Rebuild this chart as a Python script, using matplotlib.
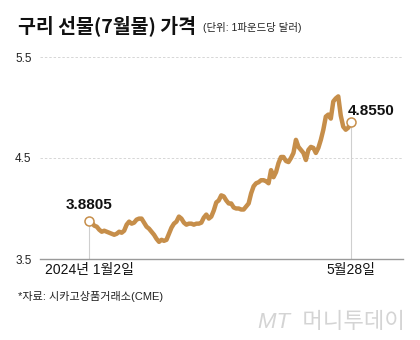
import matplotlib
matplotlib.use("Agg")
import matplotlib.pyplot as plt
import numpy as np
import pandas as pd

plt.rcParams['font.family'] = ['Liberation Sans', 'Noto Sans CJK KR', 'DejaVu Sans']

# July copper futures, USD per pound, daily close (2024-01-02 .. 2024-05-28)
dates = pd.bdate_range("2024-01-02", "2024-05-28")
prices = [
    3.8805, 3.86, 3.83, 3.82, 3.79, 3.77, 3.78, 3.77, 3.76, 3.75,
    3.74, 3.75, 3.77, 3.76, 3.78, 3.84, 3.87, 3.85, 3.86, 3.89,
    3.90, 3.90, 3.86, 3.82, 3.80, 3.77, 3.74, 3.70, 3.67, 3.69,
    3.68, 3.69, 3.75, 3.81, 3.85, 3.87, 3.92, 3.90, 3.86, 3.84,
    3.85, 3.85, 3.84, 3.85, 3.85, 3.86, 3.91, 3.94, 3.90, 3.92,
    3.98, 4.06, 4.08, 4.13, 4.12, 4.08, 4.05, 4.05, 4.01, 4.00,
    4.00, 3.99, 3.99, 4.02, 4.05, 4.15, 4.22, 4.25, 4.26, 4.28,
    4.28, 4.27, 4.25, 4.38, 4.31, 4.36, 4.45, 4.51, 4.51, 4.47,
    4.46, 4.50, 4.55, 4.68, 4.61, 4.58, 4.55, 4.48, 4.58, 4.61,
    4.60, 4.55, 4.60, 4.68, 4.78, 4.91, 4.93, 4.89, 5.06, 5.09,
    5.11, 4.92, 4.81, 4.78, 4.80, 4.855,
]
y_ticks = [3.5, 4.5, 5.5]
y_tick_labels = ["3.5", "4.5", "5.5"]
x_tick_labels = ["2024년 1월2일", "5월28일"]

line_color = "#C68E4A"

fig = plt.figure(figsize=(4.2, 3.4), dpi=100)
ax = fig.add_axes([40 / 420, 1 - 259 / 340, 363 / 420, 202 / 340])

x = np.arange(len(prices))
ax.set_xlim(-19.8, 126)
ax.set_ylim(3.5, 5.5)

# dashed horizontal guides
for yv in y_ticks[1:]:
    ax.axhline(yv, color="#d6d6d6", lw=0.7, ls=(0, (2.5, 2)), zorder=0)

# vertical guides from first and last points
ax.plot([x[0], x[0]], [3.5, prices[0]], color="#cfcfcf", lw=0.8, zorder=1)
ax.plot([x[-1], x[-1]], [3.5, prices[-1]], color="#cfcfcf", lw=0.8, zorder=1)

ax.plot(x, prices, color=line_color, lw=3.2, solid_joinstyle="round",
        solid_capstyle="round", zorder=3)
ax.plot([x[0], x[-1]], [prices[0], prices[-1]], ls="none", marker="o", ms=6.5,
        mfc="white", mec=line_color, mew=1.1, zorder=4)

ax.annotate(f"{prices[0]:.4f}", (x[0], prices[0]), xytext=(0, 6),
            textcoords="offset points", ha="center", va="bottom",
            fontsize=11, fontweight="bold", color="#111111")
ax.annotate(f"{prices[-1]:.4f}", (x[-1], prices[-1]), xytext=(-2, 3),
            textcoords="offset points", ha="left", va="bottom",
            fontsize=11, fontweight="bold", color="#111111")

for s in ["top", "right", "left"]:
    ax.spines[s].set_visible(False)
ax.spines["bottom"].set_color("#9a9a9a")
ax.spines["bottom"].set_linewidth(1.0)

ax.set_yticks(y_ticks)
ax.set_yticklabels(y_tick_labels, fontsize=8.5, color="#222222")
ax.tick_params(axis="y", length=0, pad=6)
ax.set_xticks([x[0], x[-1]])
ax.set_xticklabels(x_tick_labels, fontsize=10, color="#111111")
ax.tick_params(axis="x", length=0, pad=3)

fig.text(18 / 420, 1 - 32 / 340, "구리 선물(7월물) 가격", fontsize=14,
         fontweight="black", color="#111111", ha="left", va="baseline",
         family=['Noto Sans CJK KR', 'DejaVu Sans'])
fig.text(203 / 420, 1 - 31 / 340, "(단위: 1파운드당 달러)", fontsize=7.5,
         color="#222222", ha="left", va="baseline")
fig.text(18 / 420, 1 - 297 / 340, "*자료: 시카고상품거래소(CME)", fontsize=8,
         color="#222222", ha="left", va="center")
fig.text(405 / 420, 1 - 322 / 340, "MT  머니투데이", fontsize=16,
         color="#d4d4d4", ha="right", va="center", style="italic")

fig.savefig("out.png", dpi=100)
